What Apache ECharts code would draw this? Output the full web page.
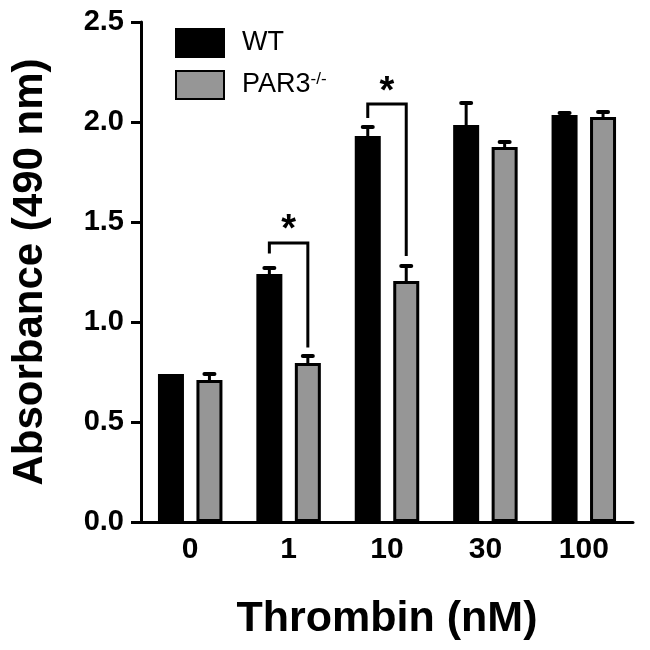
<!DOCTYPE html>
<html>
<head>
<meta charset="utf-8">
<script src="https://cdn.jsdelivr.net/npm/echarts@6/dist/echarts.min.js"></script>
<style>
  html, body { margin: 0; padding: 0; background: #fff; }
  #chart { width: 650px; height: 650px; }
</style>
</head>
<body>
<div id="chart"></div>
<script>
// data
const doses = ['0', '1', '10', '30', '100']
const wtMean = [0.74, 1.24, 1.93, 1.985, 2.035]
const wtErr = [0, 0.03, 0.045, 0.11, 0.01]
const parMean = [0.71, 0.795, 1.205, 1.875, 2.025]
const parErr = [0.03, 0.035, 0.075, 0.025, 0.025]
const yTicks = [0, 0.5, 1.0, 1.5, 2.0, 2.5]
// significance brackets: [category, left leg bottom, right leg bottom, bracket top, star y]
const brackets = [
  [1, 1.343, 0.873, 1.395, 1.455],
  [2, 2.02, 1.33, 2.09, 2.145]
]

const FONT = "'Liberation Sans', Arial, Helvetica, sans-serif"
const BAR_W = 26
const BAR_GAP = 0.48
const HALF = BAR_W * (1 + BAR_GAP) / 2   // offset of each bar centre from category centre

const chart = echarts.init(document.getElementById('chart'))

function errorBars(offset) {
  return function (params, api) {
    const v = api.value(1)
    const e = api.value(2)
    if (!e) return null
    const base = api.coord([api.value(0), v])
    const top = api.coord([api.value(0), v + e])
    const x = base[0] + offset
    return {
      type: 'group',
      children: [
        { type: 'line', shape: { x1: x, y1: base[1], x2: x, y2: top[1] }, style: { stroke: '#000', lineWidth: 3 } },
        { type: 'line', shape: { x1: x - 5, y1: top[1], x2: x + 5, y2: top[1] }, style: { stroke: '#000', lineWidth: 4, lineCap: 'round' } }
      ]
    }
  }
}

const option = {
  animation: false,
  textStyle: { fontFamily: FONT },
  grid: { left: 141, right: 17, top: 22, bottom: 128 },
  legend: {
    orient: 'vertical',
    left: 170,
    top: 23,
    icon: 'rect',
    itemWidth: 48,
    itemHeight: 28,
    itemGap: 12,
    data: ['WT', 'PAR3'],
    formatter: function (name) {
      return name === 'PAR3' ? 'PAR3{sup|-/-}' : name
    },
    textStyle: {
      fontFamily: FONT,
      fontSize: 27,
      color: '#000',
      padding: [0, 0, 0, 13],
      rich: {
        sup: { fontSize: 17, fontFamily: FONT, color: '#000', verticalAlign: 'top', padding: [0, 0, 12, 0] }
      }
    }
  },
  xAxis: {
    type: 'category',
    data: doses,
    name: 'Thrombin (nM)',
    nameLocation: 'middle',
    nameGap: 76,
    nameTextStyle: { fontFamily: FONT, fontSize: 43, fontWeight: 'bold', color: '#000' },
    axisLine: { lineStyle: { color: '#000', width: 3 } },
    axisTick: { show: false },
    axisLabel: { fontFamily: FONT, fontSize: 30, fontWeight: 'bold', color: '#000', margin: 13 }
  },
  yAxis: {
    type: 'value',
    min: yTicks[0],
    max: yTicks[yTicks.length - 1],
    interval: 0.5,
    name: 'Absorbance (490 nm)',
    nameLocation: 'middle',
    nameGap: 90,
    nameTextStyle: { fontFamily: FONT, fontSize: 42, fontWeight: 'bold', color: '#000' },
    axisLine: { show: true, lineStyle: { color: '#000', width: 3 } },
    axisTick: { show: true, length: 10, lineStyle: { color: '#000', width: 3 } },
    splitLine: { show: false },
    axisLabel: {
      fontFamily: FONT, fontSize: 29, fontWeight: 'bold', color: '#000', margin: 17,
      formatter: function (v) { return v.toFixed(1) }
    }
  },
  series: [
    {
      name: 'WT',
      type: 'bar',
      data: wtMean,
      barWidth: BAR_W,
      barGap: (BAR_GAP * 100) + '%',
      itemStyle: { color: '#000', borderColor: '#000', borderWidth: 3 }
    },
    {
      name: 'PAR3',
      type: 'bar',
      data: parMean,
      barWidth: BAR_W,
      itemStyle: { color: '#969696', borderColor: '#000', borderWidth: 3 }
    },
    {
      type: 'custom',
      renderItem: errorBars(-HALF),
      encode: { x: 0, y: 1 },
      data: doses.map((d, i) => [i, wtMean[i], wtErr[i]]),
      z: 5
    },
    {
      type: 'custom',
      renderItem: errorBars(HALF),
      encode: { x: 0, y: 1 },
      data: doses.map((d, i) => [i, parMean[i], parErr[i]]),
      z: 5
    },
    {
      type: 'custom',
      encode: { x: 0, y: 3 },
      data: brackets,
      z: 6,
      renderItem: function (params, api) {
        const c = api.value(0)
        const lb = api.coord([c, api.value(1)])
        const rb = api.coord([c, api.value(2)])
        const tp = api.coord([c, api.value(3)])
        const st = api.coord([c, api.value(4)])
        const xl = lb[0] - HALF
        const xr = lb[0] + HALF
        return {
          type: 'group',
          children: [
            {
              type: 'polyline',
              shape: { points: [[xl, lb[1]], [xl, tp[1]], [xr, tp[1]], [xr, rb[1]]] },
              style: { stroke: '#000', lineWidth: 3, fill: null, lineJoin: 'miter' }
            },
            {
              type: 'text',
              x: (xl + xr) / 2,
              y: st[1],
              style: {
                text: '*', fontFamily: FONT, fontSize: 38, fontWeight: 'bold',
                fill: '#000', align: 'center', verticalAlign: 'middle'
              }
            }
          ]
        }
      }
    }
  ]
}

chart.setOption(option)
</script>
</body>
</html>
